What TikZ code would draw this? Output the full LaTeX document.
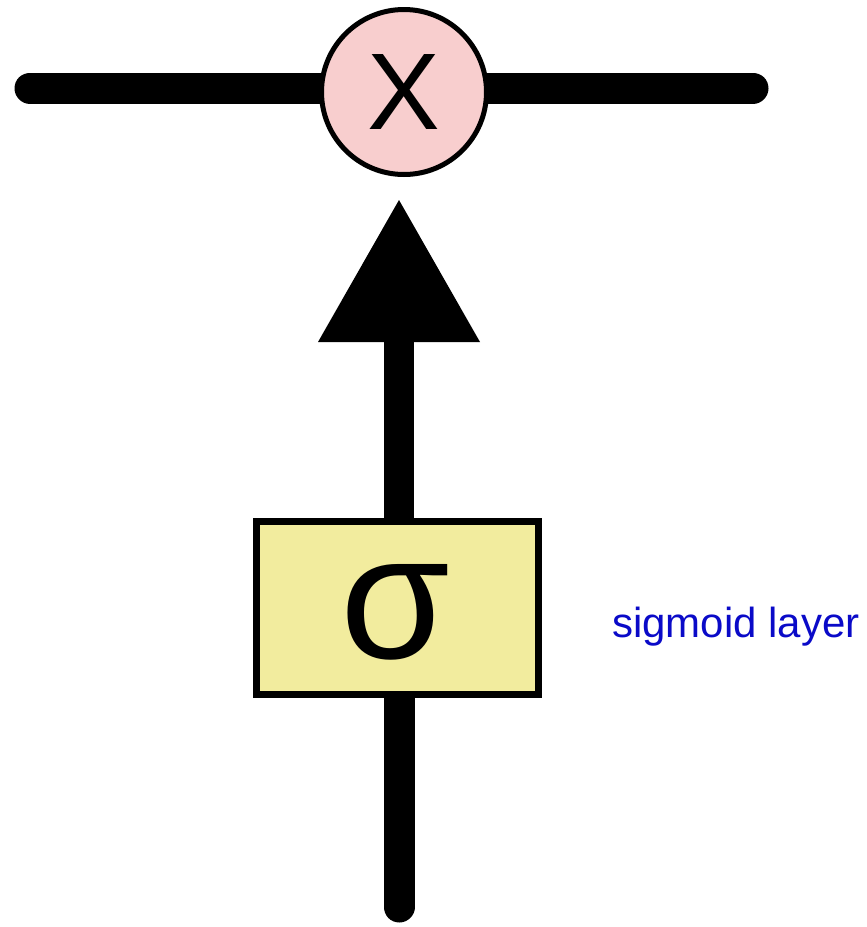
\documentclass[tikz,border=0pt]{standalone}
\usepackage{fontspec}
\setmainfont{Liberation Sans}
\usetikzlibrary{arrows.meta,backgrounds}
\definecolor{gatepink}{RGB}{248,206,206}
\definecolor{layeryellow}{RGB}{242,236,158}
\definecolor{labelblue}{RGB}{10,10,200}
\tikzset{
  pipe/.style={line width=31pt, black},
  gatenode/.style={circle, draw=black, line width=5pt, fill=gatepink, minimum size=165pt, inner sep=0pt, font=\fontsize{109}{120}\selectfont},
  layerbox/.style={rectangle, draw=black, line width=7pt, fill=layeryellow, minimum width=282pt, minimum height=173pt, inner sep=0pt},
  labeltext/.style={text=labelblue, font=\fontsize{42}{50}\selectfont, inner sep=0pt, anchor=base west}
}
\begin{document}
\begin{tikzpicture}[x=1pt,y=-1pt]
\useasboundingbox (0,0) rectangle (867,927);
\node[gatenode] (gate) at (404,92) {X};
\node[layerbox] (layer) at (397.5,608) {};
\node (sig) at (395,612) {\fontsize{178}{186}\selectfont σ};
\node[labeltext] (label) at (612,637) {sigmoid layer};
\coordinate (lineL) at (30,88);
\coordinate (lineR) at (753,88);
\coordinate (tip) at (399,200);
\coordinate (inEnd) at (399,907);
\begin{pgfonlayer}{background}
\draw[pipe, line cap=round] (lineL) -- (lineR);
\draw[pipe, line cap=round] (layer.south -| inEnd) -- (inEnd);
\end{pgfonlayer}
\draw[line width=30pt, -{Triangle[length=142pt,width=162pt,line width=0pt]}] (layer.north -| tip) -- (tip);
\end{tikzpicture}
\end{document}
